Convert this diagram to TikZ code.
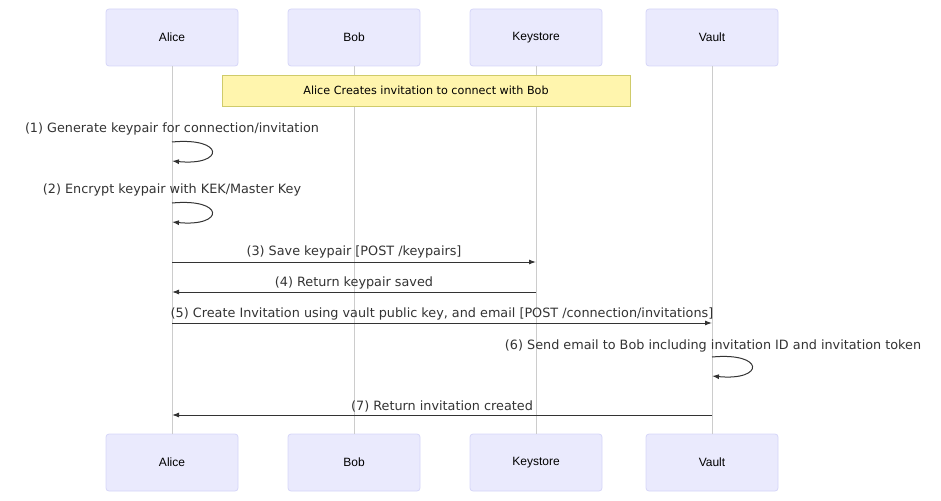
\documentclass[tikz,border=0pt]{standalone}
\usepackage{fontspec}
\setmainfont{DejaVu Sans}
\newfontfamily\actorfont{Liberation Sans}
\usetikzlibrary{arrows.meta}
\definecolor{actorfill}{HTML}{EAEAFD}
\definecolor{actordraw}{HTML}{D6D6F8}
\definecolor{notefill}{HTML}{FFF5AD}
\definecolor{notedraw}{HTML}{CFCB6A}
\definecolor{msgcol}{HTML}{333333}
\definecolor{lifecol}{HTML}{CCCCCC}
\tikzset{
  actorbox/.style={draw=actordraw, fill=actorfill, line width=0.8pt, rounded corners=3pt,
    minimum width=132pt, minimum height=57pt, inner sep=0pt, font=\actorfont\fontsize{12}{14}\selectfont},
  notebox/.style={draw=notedraw, fill=notefill, line width=0.8pt, minimum width=408pt,
    minimum height=31pt, inner sep=0pt, font=\fontsize{11.2}{13}\selectfont},
  lifeline/.style={draw=lifecol, line width=0.6pt},
  msg/.style={draw=msgcol, line width=1pt, -{Latex[length=7pt,width=5pt]}},
  msglabel/.style={text=msgcol, inner sep=0pt, font=\fontsize{12.8}{15}\selectfont},
}
\begin{document}
\begin{tikzpicture}[x=1pt,y=-1pt]
\useasboundingbox (0,0) rectangle (941,500);
% actors top
\node[actorbox] (aliceT) at (172,37.5) {Alice};
\node[actorbox] (bobT) at (354,37.5) {Bob};
\node[actorbox] (keyT) at (536,37.5) {Keystore};
\node[actorbox] (vaultT) at (712,37.5) {Vault};
% actors bottom
\node[actorbox] (aliceB) at (172,462.5) {Alice};
\node[actorbox] (bobB) at (354,462.5) {Bob};
\node[actorbox] (keyB) at (536,462.5) {Keystore};
\node[actorbox] (vaultB) at (712,462.5) {Vault};
% lifelines
\draw[lifeline] (aliceT.south) -- (aliceB.north);
\draw[lifeline] (bobT.south) -- (bobB.north);
\draw[lifeline] (keyT.south) -- (keyB.north);
\draw[lifeline] (vaultT.south) -- (vaultB.north);
% note
\node[notebox] (note) at (426,90.5) {Alice Creates invitation to connect with Bob};
% coordinates
\coordinate (a1s) at (172,142);
\coordinate (a1e) at (172,161);
\coordinate (a2s) at (172,203);
\coordinate (a2e) at (172,222);
\coordinate (a3) at (172,262);
\coordinate (k3) at (536,262);
\coordinate (k4) at (536,292);
\coordinate (a4) at (172,292);
\coordinate (a5) at (172,323);
\coordinate (v5) at (712,323);
\coordinate (v6s) at (712,357);
\coordinate (v6e) at (712,376);
\coordinate (v7) at (712,415);
\coordinate (a7) at (172,415);
% messages
\node[msglabel] (l1) at (172,128.5) {(1) Generate keypair for connection/invitation};
\draw[msg] (a1s) .. controls (225,137) and (225,166) .. (a1e);
\node[msglabel] (l2) at (172,189.5) {(2) Encrypt keypair with KEK/Master Key};
\draw[msg] (a2s) .. controls (225,198) and (225,227) .. (a2e);
\node[msglabel] (l3) at (354,251.5) {(3) Save keypair [POST /keypairs]};
\draw[msg] (a3) -- (k3);
\node[msglabel] (l4) at (354,282.5) {(4) Return keypair saved};
\draw[msg] (k4) -- (a4);
\node[msglabel] (l5) at (442,313.5) {(5) Create Invitation using vault public key, and email [POST /connection/invitations]};
\draw[msg] (a5) -- (v5);
\node[msglabel] (l6) at (713,345.5) {(6) Send email to Bob including invitation ID and invitation token};
\draw[msg] (v6s) .. controls (765,352) and (765,381) .. (v6e);
\node[msglabel] (l7) at (442,406.5) {(7) Return invitation created};
\draw[msg] (v7) -- (a7);
\end{tikzpicture}
\end{document}
